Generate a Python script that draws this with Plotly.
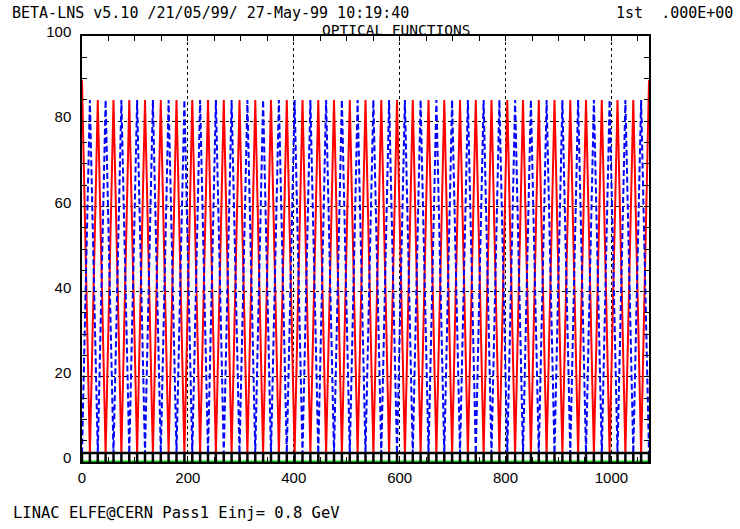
import plotly.graph_objects as go

# Longitudinal positions of the quadrupoles (m)
quad_s = [0.0, 14.9, 29.8, 44.6, 59.5, 74.4, 89.3, 104.1, 119.0, 133.9,
          148.8, 163.6, 178.5, 193.4, 208.3, 223.1, 238.0, 252.9, 267.8, 282.6,
          297.5, 312.4, 327.3, 342.1, 357.0, 371.9, 386.8, 401.6, 416.5, 431.4,
          446.3, 461.1, 476.0, 490.9, 505.8, 520.6, 535.5, 550.4, 565.3, 580.1,
          595.0, 609.9, 624.8, 639.6, 654.5, 669.4, 684.3, 699.1, 714.0, 728.9,
          743.8, 758.6, 773.5, 788.4, 803.3, 818.1, 833.0, 847.9, 862.8, 877.6,
          892.5, 907.4, 922.3, 937.1, 952.0, 966.9, 981.8, 996.6, 1011.5, 1026.4,
          1041.3, 1056.1, 1071.0]

# Horizontal beta function (red, solid)
beta_x = [89.6, 2.0, 85.0, 2.0, 85.0, 2.0, 85.0, 2.0, 85.0, 2.0,
          85.0, 2.0, 85.0, 2.0, 85.0, 2.0, 85.0, 2.0, 85.0, 2.0,
          85.0, 2.0, 85.0, 2.0, 85.0, 2.0, 85.0, 2.0, 85.0, 2.0,
          85.0, 2.0, 85.0, 2.0, 85.0, 2.0, 85.0, 2.0, 85.0, 2.0,
          85.0, 2.0, 85.0, 2.0, 85.0, 2.0, 85.0, 2.0, 85.0, 2.0,
          85.0, 2.0, 85.0, 2.0, 85.0, 2.0, 85.0, 2.0, 85.0, 2.0,
          85.0, 2.0, 85.0, 2.0, 85.0, 2.0, 85.0, 2.0, 85.0, 2.0,
          85.0, 2.0, 89.6]

# Vertical beta function (blue, dashed)
beta_y = [2.0, 85.0, 2.0, 85.0, 2.0, 85.0, 2.0, 85.0, 2.0, 85.0,
          2.0, 85.0, 2.0, 85.0, 2.0, 85.0, 2.0, 85.0, 2.0, 85.0,
          2.0, 85.0, 2.0, 85.0, 2.0, 85.0, 2.0, 85.0, 2.0, 85.0,
          2.0, 85.0, 2.0, 85.0, 2.0, 85.0, 2.0, 85.0, 2.0, 85.0,
          2.0, 85.0, 2.0, 85.0, 2.0, 85.0, 2.0, 85.0, 2.0, 85.0,
          2.0, 85.0, 2.0, 85.0, 2.0, 85.0, 2.0, 85.0, 2.0, 85.0,
          2.0, 85.0, 2.0, 85.0, 2.0, 85.0, 2.0, 85.0, 2.0, 85.0,
          2.0, 85.0, 2.0]

# Black comb (lattice marker) level and bar foot
comb_level = 2.1
comb_foot = 0.0
# Dispersion (green), zero along the line
disp_s = [0.0, 1071.0]
disp_v = [0.0, 0.0]

x_ticks = [0, 200, 400, 600, 800, 1000]
y_ticks = [0, 20, 40, 60, 80, 100]
s_max = 1071.0

header_left = "BETA-LNS v5.10 /21/05/99/ 27-May-99 10:19:40"
header_right = "1st  .000E+00"
plot_title = "OPTICAL FUNCTIONS"
footer = "LINAC ELFE@CERN Pass1 Einj= 0.8 GeV"

# Build comb path from the quad positions
comb_x, comb_y = [], []
for s in quad_s:
    comb_x += [s, s, s]
    comb_y += [comb_level, comb_foot, comb_level]

fig = go.Figure()
fig.add_trace(go.Scatter(x=disp_s, y=disp_v, mode="lines",
                         line=dict(color="#00c800", width=3), cliponaxis=False,
                         hoverinfo="skip", showlegend=False))
fig.add_trace(go.Scatter(x=quad_s, y=beta_x, mode="lines",
                         line=dict(color="#ff0000", width=2), showlegend=False))
fig.add_trace(go.Scatter(x=quad_s, y=beta_y, mode="lines",
                         line=dict(color="#0000ff", width=2, dash="6px,3px"),
                         showlegend=False))
fig.add_trace(go.Scatter(x=comb_x, y=comb_y, mode="lines",
                         line=dict(color="#000000", width=2.5),
                         hoverinfo="skip", showlegend=False))

W, H = 740, 529
L, R, T, B = 82, 649, 36, 462

def px(xp):
    return (xp - L) / (R - L)

def py(yp):
    return (B - yp) / (B - T)

mono = "DejaVu Sans Mono"
ann = [
    dict(text=header_left, x=px(10), y=py(12.5), xanchor="left", yanchor="middle",
         font=dict(size=15, family=mono)),
    dict(text=header_right, x=px(735), y=py(12.5), xanchor="right", yanchor="middle",
         font=dict(size=15, family=mono)),
    dict(text=plot_title, x=px(396), y=py(29.5), xanchor="center", yanchor="middle",
         font=dict(size=14.5, family=mono)),
    dict(text=footer, x=px(11), y=py(513), xanchor="left", yanchor="middle",
         font=dict(size=15.5, family=mono)),
]
for a in ann:
    a.update(xref="paper", yref="paper", showarrow=False)
    a["font"]["color"] = "black"

fig.update_layout(
    width=W, height=H,
    margin=dict(l=L, r=W - R, t=T, b=H - B, pad=0),
    paper_bgcolor="white", plot_bgcolor="white",
    font=dict(family="Liberation Sans", size=15, color="black"),
    annotations=ann,
    showlegend=False,
)
fig.update_xaxes(range=[0, s_max], tickvals=x_ticks, ticktext=[str(v) for v in x_ticks],
                 showline=True, linecolor="black", linewidth=1.5, mirror="allticks",
                 ticks="inside", ticklen=5, tickcolor="black", tickwidth=1,
                 minor=dict(dtick=50, ticks="inside", ticklen=5, tickcolor="black", showgrid=False),
                 showgrid=True, gridcolor="black", griddash="dot", gridwidth=1,
                 zeroline=False, ticklabelstandoff=1, automargin=False,
                 tickfont=dict(size=15, family="Liberation Sans"))
fig.update_yaxes(range=[0, 100], tickvals=y_ticks, ticktext=[str(v) for v in y_ticks],
                 showline=True, linecolor="black", linewidth=1.5, mirror="allticks",
                 ticks="inside", ticklen=5, tickcolor="black", tickwidth=1,
                 minor=dict(dtick=5, ticks="inside", ticklen=5, tickcolor="black", showgrid=False),
                 showgrid=True, gridcolor="black", griddash="dot", gridwidth=1,
                 zeroline=False, ticklabelstandoff=6, ticklabelshift=-4, automargin=False,
                 tickfont=dict(size=15, family="Liberation Sans"))

fig.write_html("out.html", config={"displayModeBar": False},
               post_script="document.body.style.margin='0px';")
